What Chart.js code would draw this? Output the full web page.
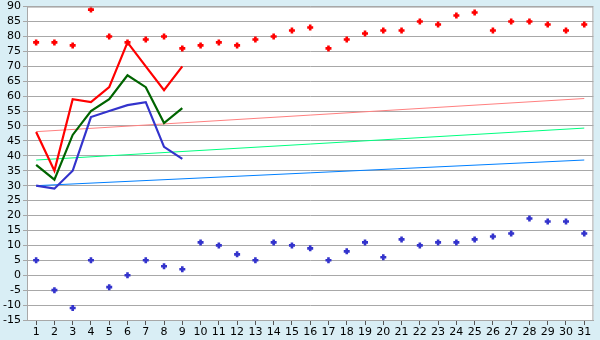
<!DOCTYPE html>
<html>
<head>
<meta charset="utf-8">
<script src="https://cdn.jsdelivr.net/npm/chart.js@4"></script>
<style>
  html, body { margin: 0; padding: 0; background: #d9eef5; }
  #wrap { width: 600px; height: 340px; }
</style>
</head>
<body>
<div id="wrap"><canvas id="chart" width="600" height="340"></canvas></div>
<script>
// --- dati ---
const days = ['1','2','3','4','5','6','7','8','9','10','11','12','13','14','15','16',
  '17','18','19','20','21','22','23','24','25','26','27','28','29','30','31'];

const redLine   = [48, 35, 59, 58, 63, 78, 70, 62, 70];
const greenLine = [37, 32, 47, 55, 59, 67, 63, 51, 56];
const blueLine  = [30, 29, 35, 53, 55, 57, 58, 43, 39];

const redPoints  = [78, 78, 77, 89, 80, 78, 79, 80, 76, 77, 78, 77, 79, 80, 82, 83,
  76, 79, 81, 82, 82, 85, 84, 87, 88, 82, 85, 85, 84, 82, 84];
const bluePoints = [5, -5, -11, 5, -4, 0, 5, 3, 2, 11, 10, 7, 5, 11, 10, 9,
  5, 8, 11, 6, 12, 10, 11, 11, 12, 13, 14, 19, 18, 18, 14];

// trend: valore al giorno 1 e al giorno 31
const redTrend   = [48.1, 59.2];
const greenTrend = [38.6, 49.3];
const blueTrend  = [30.0, 38.6];

function endpoints(pair) {
  const arr = days.map(() => null);
  arr[0] = pair[0];
  arr[days.length - 1] = pair[1];
  return arr;
}

const plotFrame = {
  id: 'plotFrame',
  beforeDraw(chart) {
    const { ctx, chartArea: a } = chart;
    ctx.save();
    ctx.fillStyle = '#ffffff';
    ctx.fillRect(a.left, a.top, a.right - a.left, a.bottom - a.top);
    ctx.restore();
  },
  afterDatasetsDraw(chart) {
    const { ctx, chartArea: a } = chart;
    ctx.save();
    ctx.strokeStyle = '#a8a8a8';
    ctx.lineWidth = 1;
    ctx.strokeRect(a.left + 0.5, a.top + 0.5, a.right - a.left - 1, a.bottom - a.top);
    ctx.restore();
  }
};

const lineDs = (data, color) => ({
  data, borderColor: color, borderWidth: 2.2, pointRadius: 0, fill: false, tension: 0
});
const pointDs = (data, color) => ({
  data, showLine: false, pointStyle: 'cross', pointRadius: 3, pointBorderWidth: 2.6,
  borderColor: color, backgroundColor: color
});
const trendDs = (pair, color) => ({
  data: endpoints(pair), borderColor: color, borderWidth: 1, pointRadius: 0, spanGaps: true, fill: false
});

new Chart(document.getElementById('chart'), {
  type: 'line',
  data: {
    labels: days,
    datasets: [
      lineDs(redLine, '#ff0000'),
      lineDs(greenLine, '#006400'),
      lineDs(blueLine, '#3333cc'),
      pointDs(redPoints, '#ff0000'),
      pointDs(bluePoints, '#3333cc'),
      trendDs(redTrend, '#ff8080'),
      trendDs(greenTrend, '#00ff80'),
      trendDs(blueTrend, '#0080ff')
    ]
  },
  options: {
    responsive: false,
    animation: false,
    layout: { padding: { top: 5, right: 5, left: 0, bottom: 0 } },
    plugins: { legend: { display: false }, tooltip: { enabled: false } },
    scales: {
      x: {
        offset: true,
        grid: { offset: false, drawOnChartArea: false, drawTicks: true, tickLength: 5, color: '#555' },
        border: { color: '#a8a8a8' },
        ticks: { color: '#000', font: { family: 'DejaVu Sans', size: 11 }, padding: 1, maxRotation: 0, autoSkip: false },
        afterFit(s) { s.height = 20; s.paddingLeft = 0; s.paddingRight = 0; }
      },
      y: {
        min: -15, max: 90,
        grid: { color: '#a8a8a8', tickLength: 4 },
        border: { color: '#a8a8a8' },
        ticks: { stepSize: 5, autoSkip: false, color: '#000', font: { family: 'DejaVu Sans', size: 11 }, padding: 2 },
        afterFit(s) { s.width = 27; s.paddingTop = 0; s.paddingBottom = 0; }
      }
    }
  },
  plugins: [plotFrame]
});
</script>
</body>
</html>
